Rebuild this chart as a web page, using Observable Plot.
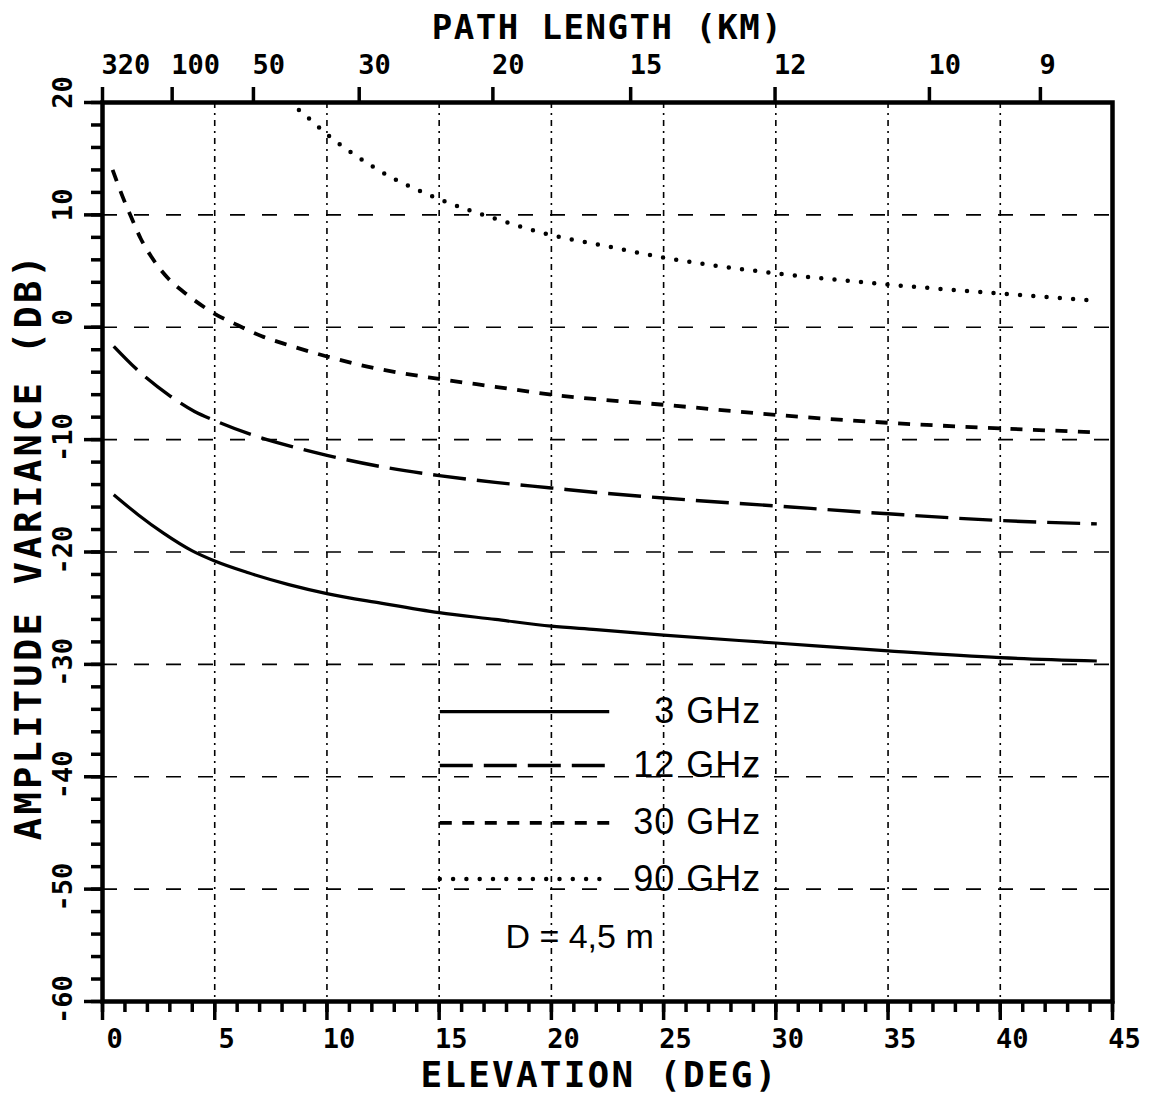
<!DOCTYPE html>
<html>
<head>
<meta charset="utf-8">
<script src="https://cdn.jsdelivr.net/npm/d3@7"></script>
<script src="https://cdn.jsdelivr.net/npm/@observablehq/plot@0.6"></script>
<style>
  html, body { margin: 0; padding: 0; background: #fff; }
</style>
</head>
<body>
<div id="chart"></div>
<script>
// ---- Data (elevation in degrees, amplitude variance in dB) ----
const elev3GHz  = [0.5, 1.6, 2.7, 4.0, 5.0, 6.5, 8.3, 10, 12.4, 15, 17.5, 20, 22, 25, 30, 35, 40, 44.3];
const db3GHz    = [-14.9, -16.7, -18.3, -19.9, -20.8, -21.85, -22.9, -23.7, -24.55, -25.4, -26.0, -26.6, -26.9, -27.4, -28.1, -28.8, -29.4, -29.7];

const elev12GHz = [0.5, 1.5, 3.0, 4.1, 5.0, 6.7, 8.4, 10, 12.4, 15, 17.5, 20, 22, 25, 30, 35, 40, 44.3];
const db12GHz   = [-1.7, -3.7, -6.1, -7.5, -8.3, -9.6, -10.6, -11.4, -12.4, -13.2, -13.8, -14.3, -14.7, -15.2, -15.9, -16.6, -17.2, -17.5];

const elev30GHz = [0.45, 0.9, 1.3, 1.7, 2.2, 2.9, 3.7, 4.6, 5.0, 5.9, 7.1, 8.3, 10, 11.8, 15, 17.5, 20, 22, 25, 30, 35, 40, 44.3];
const db30GHz   = [14.0, 11.6, 9.7, 7.9, 6.2, 4.4, 3.0, 1.7, 1.2, 0.3, -0.8, -1.6, -2.6, -3.5, -4.6, -5.3, -6.0, -6.4, -6.9, -7.8, -8.5, -9.0, -9.35];

const elev90GHz = [8.3, 8.8, 9.3, 10.1, 11.2, 12.2, 13.2, 14.3, 15, 16.5, 17.75, 20, 22, 25, 30, 35, 40, 44.3];
const db90GHz   = [20.1, 19.25, 18.4, 17.0, 15.4, 14.1, 13.0, 12.0, 11.4, 10.3, 9.5, 8.2, 7.4, 6.2, 4.8, 3.8, 3.0, 2.35];

const seriesNames = ["3 GHz", "12 GHz", "30 GHz", "90 GHz"];
const annotation = "D = 4,5 m";

// Axis ticks
const elevationTicks = [0, 5, 10, 15, 20, 25, 30, 35, 40, 45];
const elevationMinor = d3.range(0, 46, 1);
const dbTicks = [-60, -50, -40, -30, -20, -10, 0, 10, 20];
const dbMinor = d3.range(-60, 21, 2);
const dbGrid = [-50, -40, -30, -20, -10, 0, 10];
const elevGrid = [5, 10, 15, 20, 25, 30, 35, 40];
const pathLengthKm = [320, 100, 50, 30, 20, 15, 12, 10, 9];

// Path length -> elevation (effective earth radius 8500 km, 6 km layer)
const RE = 8500, H = 6;
const pathElev = pathLengthKm.map(L =>
  Math.max(0, Math.asin((2 * RE * H + H * H - L * L) / (2 * RE * L)) * 180 / Math.PI));

// Legend layout (data units)
const legendDb = [-34.2, -39.0, -44.1, -49.1];

// ---- Build tables ----
const toRows = (xs, ys) => xs.map((e, i) => ({elev: e, db: ys[i]}));
const tables = [toRows(elev3GHz, db3GHz), toRows(elev12GHz, db12GHz), toRows(elev30GHz, db30GHz), toRows(elev90GHz, db90GHz)];

const styles = [
  {strokeWidth: 3.2, strokeLinecap: "butt"},
  {strokeWidth: 3.4, strokeDasharray: "33,11", strokeLinecap: "butt"},
  {strokeWidth: 3.8, strokeDasharray: "12,10.5", strokeLinecap: "butt"},
  {strokeWidth: 4.5, strokeDasharray: "0,13.3", strokeLinecap: "round"}
];

const mono = "'DejaVu Sans Mono', monospace";
const sans = "'Liberation Sans', Arial, sans-serif";
const tickFont = {fontFamily: mono, fontSize: 27, fontWeight: "bold"};

const curveMarks = tables.map((t, i) => Plot.line(t, {
  x: "elev", y: "db", curve: "monotone-x", stroke: "black", clip: true, ...styles[i]
}));

const legendLineMarks = legendDb.map((y, i) => Plot.ruleY([y], {
  x1: 15.05, x2: 22.6, stroke: "black", ...styles[i]
}));

const legendRows = seriesNames.map((name, i) => ({label: name, db: legendDb[i]}));

const chart = Plot.plot({
  width: 1152,
  height: 1095,
  marginLeft: 102,
  marginRight: 40,
  marginTop: 102,
  marginBottom: 94,
  x: {domain: [0, 45]},
  y: {domain: [-60, 20]},
  style: {background: "white", color: "black", fontFamily: mono, overflow: "visible"},
  marks: [
    // grid
    Plot.ruleY(dbGrid, {stroke: "black", strokeWidth: 1.6, strokeDasharray: "15,17"}),
    Plot.ruleX(elevGrid, {stroke: "black", strokeWidth: 1.6, strokeDasharray: "6,5,2,5"}),
    // curves
    ...curveMarks,
    // legend
    ...legendLineMarks,
    Plot.text(legendRows, {x: 29.35, y: "db", text: "label", textAnchor: "end", fontFamily: sans, fontSize: 36, fill: "black"}),
    Plot.text([annotation], {x: 17.95, y: -54.3, text: d => d, textAnchor: "start", fontFamily: sans, fontSize: 34, fill: "black"}),
    // frame
    Plot.frame({stroke: "black", strokeWidth: 4.5}),
    // bottom axis: minor ticks, major ticks, labels
    Plot.axisX({anchor: "bottom", ticks: elevationMinor, tickSize: 11, fill: "none", label: null, strokeWidth: 3.5}),
    Plot.axisX({anchor: "bottom", ticks: elevationTicks, tickSize: 19, fill: "none", label: null, strokeWidth: 3.5}),
    Plot.axisX({anchor: "bottom", ticks: elevationTicks, tickSize: 0, tickPadding: 27, dx: 12, label: null, tickFormat: d => String(d), ...tickFont}),
    // top axis (path length)
    Plot.axisX({anchor: "top", ticks: pathElev, tickSize: 16, fill: "none", label: null, strokeWidth: 3.5}),
    Plot.axisX({anchor: "top", ticks: pathElev, tickSize: 0, tickPadding: 29, textAnchor: "start", dx: -1, label: null,
      tickFormat: d => String(pathLengthKm[pathElev.indexOf(d)]), ...tickFont}),
    // left axis
    Plot.axisY({anchor: "left", ticks: dbMinor, tickSize: 11, fill: "none", label: null, strokeWidth: 3.5}),
    Plot.axisY({anchor: "left", ticks: dbTicks, tickSize: 18, fill: "none", label: null, strokeWidth: 3.5}),
    Plot.axisY({anchor: "left", ticks: dbTicks.filter(d => d >= 0), tickSize: 0, tickPadding: 39, tickRotate: -90,
      textAnchor: "middle", lineAnchor: "middle", dy: -10, label: null, tickFormat: d => String(d), ...tickFont}),
    Plot.axisY({anchor: "left", ticks: dbTicks.filter(d => d < 0), tickSize: 0, tickPadding: 39, tickRotate: -90,
      textAnchor: "middle", lineAnchor: "middle", dy: -2, label: null, tickFormat: d => String(d), ...tickFont}),
    // axis titles
    Plot.text(["PATH LENGTH (KM)"], {frameAnchor: "top", text: d => d, textAnchor: "middle", lineAnchor: "bottom", dy: -64, fontFamily: mono, fontSize: 34, fontWeight: "bold"}),
    Plot.text(["ELEVATION (DEG)"], {frameAnchor: "bottom", text: d => d, textAnchor: "middle", lineAnchor: "bottom", dy: 85, dx: -8, fontFamily: mono, fontSize: 36, fontWeight: "bold"}),
    Plot.text(["AMPLITUDE VARIANCE (DB)"], {frameAnchor: "left", text: d => d, rotate: -90, textAnchor: "middle", lineAnchor: "bottom", dx: -62, dy: -6, fontFamily: mono, fontSize: 37, fontWeight: "bold"})
  ]
});

document.getElementById("chart").appendChild(chart);

// letter spacing for the plotter-style titles
const spacing = {"PATH LENGTH (KM)": "1.5px", "ELEVATION (DEG)": "2.2px", "AMPLITUDE VARIANCE (DB)": "3.3px", "3 GHz": "1px", "12 GHz": "1px", "30 GHz": "1px", "90 GHz": "1px"};
d3.select(chart).selectAll("text").each(function() {
  const s = spacing[this.textContent];
  if (s) this.style.letterSpacing = s;
});
</script>
</body>
</html>
